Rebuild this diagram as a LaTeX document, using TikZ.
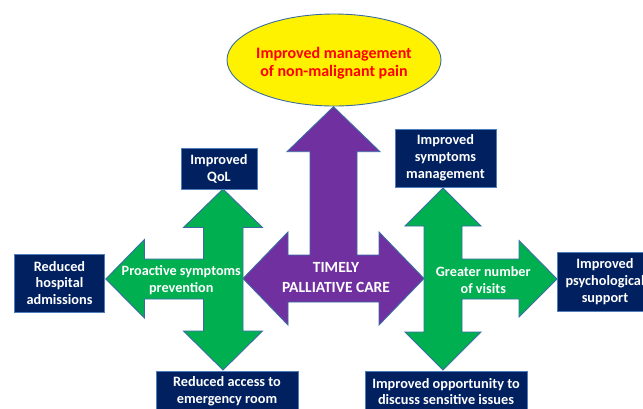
\documentclass[tikz,border=0pt]{standalone}
\usepackage{fontspec}
\setmainfont{Carlito}
\usetikzlibrary{shapes.geometric}
\definecolor{navy}{HTML}{002060}
\definecolor{purplearrow}{HTML}{7030A0}
\definecolor{greenarrow}{HTML}{00B050}
\definecolor{edgeblue}{HTML}{3A6CA3}
\definecolor{boxedge}{HTML}{4F7DBA}
\tikzset{
  box/.style={rectangle, fill=navy, draw=boxedge, line width=0.8pt, inner sep=0pt,
    align=center, text=white, font=\bfseries\fontsize{14.3}{16.9}\selectfont},
  arrowshape/.style={draw=edgeblue, line width=0.9pt, line join=miter},
  arrowtext/.style={align=center, text=white, inner sep=0pt},
}
\begin{document}
\begin{tikzpicture}[x=1pt,y=-1pt]
\useasboundingbox (0,0) rectangle (643,408);
\clip (0,0) rectangle (643,408);
\fill[white] (0,0) rectangle (643,408);

% goal at the top
\node[ellipse, fill=yellow, draw=edgeblue, line width=0.9pt, minimum width=214pt,
  minimum height=92pt, inner sep=0pt] (pain) at (334,60) {};
\node[align=center, text=red, inner sep=0pt,
  font=\bfseries\fontsize{16}{18.4}\selectfont] (paintext) at (334,63)
  {Improved management\\of non-malignant pain};

% central purple arrow: up, left and right
\filldraw[arrowshape, fill=purplearrow]
  (333.5,106.7) -- (380,151.7) -- (357,151.7) -- (357,255) -- (379,255) -- (379,232)
  -- (424,278.5) -- (379,325) -- (379,302) -- (288,302) -- (288,325) -- (243,278.5)
  -- (288,232) -- (288,255) -- (310,255) -- (310,151.7) -- (287,151.7) -- cycle;
\node[arrowtext, font=\bfseries\fontsize{15.5}{20}\selectfont] (care) at (336,277.5)
  {TIMELY\\PALLIATIVE CARE};

% left green arrow: up, down and left
\filldraw[arrowshape, fill=greenarrow]
  (223,189) -- (262.5,227.5) -- (243,227.5) -- (243,331) -- (262.5,331) -- (223,370)
  -- (183.5,331) -- (203.5,331) -- (203.5,299) -- (144.4,299) -- (144.4,318)
  -- (105.8,279) -- (144.4,239.5) -- (144.4,259) -- (203.5,259) -- (203.5,227.5)
  -- (183.5,227.5) -- cycle;
\node[arrowtext, font=\bfseries\fontsize{14.2}{16.7}\selectfont] (proactive) at (181.3,280)
  {Proactive symptoms\\prevention};

% right green arrow: up, down and right
\filldraw[arrowshape, fill=greenarrow]
  (443,188) -- (481,226) -- (462,226) -- (462,259) -- (519,259) -- (519,240.5)
  -- (557,279) -- (519,317) -- (519,299) -- (462,299) -- (462,332) -- (481,332)
  -- (443,370) -- (405,332) -- (424,332) -- (424,226) -- (405,226) -- cycle;
\node[arrowtext, font=\bfseries\fontsize{14.2}{16.7}\selectfont] (visits) at (483.3,280)
  {Greater number\\of visits};

% outcome boxes
\node[box, minimum width=76pt, minimum height=41pt] (qol) at (219,168.5)
  {Improved\\QoL};
\node[box, minimum width=101pt, minimum height=58pt] (symptoms) at (445.5,158)
  {Improved\\symptoms\\management};
\node[box, minimum width=90pt, minimum height=58pt] (hospital) at (59.5,283)
  {Reduced\\hospital\\admissions};
\node[box, minimum width=95pt, minimum height=58.5pt] (psych) at (605,281.8)
  {Improved\\psychological\\support};
\node[box, minimum width=142pt, minimum height=41pt] (emergency) at (227,391.5)
  {Reduced access to\\emergency room};
\node[box, minimum width=162pt, minimum height=41pt] (opportunity) at (446,391.5)
  {Improved opportunity to\\discuss sensitive issues};
\end{tikzpicture}
\end{document}
